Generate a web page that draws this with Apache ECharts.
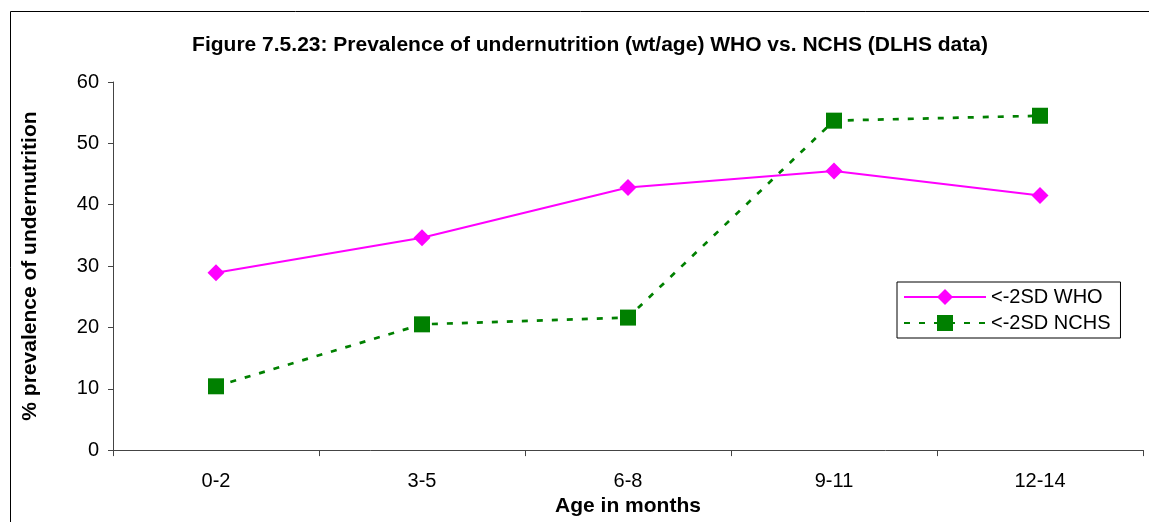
<!DOCTYPE html>
<html>
<head>
    <meta charset="utf-8">
    <script src="https://cdn.jsdelivr.net/npm/echarts@6/dist/echarts.min.js"></script>
    <style>
        body { margin: 0; background: #fff; }
    </style>
</head>
<body>
    <div id="main" style="width: 1149px;height:522px;"></div>
    <script type="text/javascript">
        // data
        var ageGroups = ['0-2', '3-5', '6-8', '9-11', '12-14'];
        var whoValues = [28.9, 34.6, 42.8, 45.5, 41.5];
        var nchsValues = [10.4, 20.5, 21.6, 53.7, 54.5];
        var yTicks = [0, 10, 20, 30, 40, 50, 60];

        var myChart = echarts.init(document.getElementById('main'));
        var fontFam = 'Liberation Sans, Arial, sans-serif';
        option = {
            animation: false,
            backgroundColor: '#fff',
            title: {
                text: 'Figure 7.5.23: Prevalence of undernutrition (wt/age) WHO vs. NCHS (DLHS data)',
                left: 585, top: 30, textAlign: 'center',
                textStyle: { fontFamily: fontFam, fontSize: 21, fontWeight: 'bold', color: '#000' }
            },
            graphic: [{
                type: 'rect', shape: { x: 10.5, y: 11.5, width: 1150, height: 520 },
                style: { fill: 'none', stroke: '#000', lineWidth: 1 }
            }],
            legend: {
                orient: 'vertical',
                left: 897, top: 282,
                padding: [5, 10, 5, 6],
                itemGap: 6,
                itemWidth: 82, itemHeight: 20,
                borderColor: '#000', borderWidth: 1,
                textStyle: { fontFamily: fontFam, fontSize: 20, color: '#000' },
                data: ['<-2SD WHO', '<-2SD NCHS']
            },
            grid: { left: 113, right: 6, top: 82, bottom: 71, containLabel: false },
            xAxis: {
                type: 'category',
                data: ageGroups,
                boundaryGap: true,
                name: 'Age in months',
                nameLocation: 'middle', nameGap: 36,
                nameTextStyle: { fontFamily: fontFam, fontSize: 21, fontWeight: 'bold', color: '#000' },
                axisLine: { lineStyle: { color: '#444', width: 1 } },
                axisTick: { show: true, length: 6, lineStyle: { color: '#444' } },
                axisLabel: { fontFamily: fontFam, fontSize: 20, color: '#000', margin: 21 }
            },
            yAxis: {
                type: 'value',
                min: yTicks[0], max: yTicks[yTicks.length - 1], interval: 10,
                name: '% prevalence of undernutrition',
                nameLocation: 'middle', nameGap: 72,
                nameTextStyle: { fontFamily: fontFam, fontSize: 21, fontWeight: 'bold', color: '#000' },
                axisLine: { show: true, lineStyle: { color: '#444', width: 1 } },
                axisTick: { show: true, length: 5, inside: false, lineStyle: { color: '#444' } },
                axisLabel: { fontFamily: fontFam, fontSize: 20, color: '#000', margin: 14 },
                splitLine: { show: false }
            },
            series: [{
                name: '<-2SD WHO',
                type: 'line',
                data: whoValues,
                symbol: 'diamond', symbolSize: 17,
                itemStyle: { color: '#FF00FF' },
                lineStyle: { color: '#FF00FF', width: 2 }
            }, {
                name: '<-2SD NCHS',
                type: 'line',
                data: nchsValues,
                symbol: 'rect', symbolSize: 16,
                itemStyle: { color: '#008000' },
                lineStyle: { color: '#008000', width: 2.7, type: [6, 9] }
            }]
        };
        myChart.setOption(option);
    </script>
</body>
</html>
